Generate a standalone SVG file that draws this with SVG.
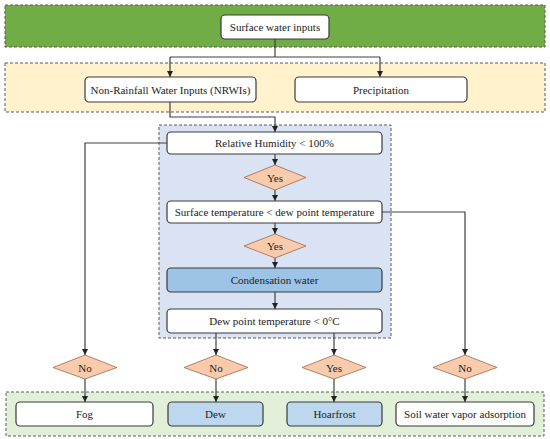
<svg xmlns="http://www.w3.org/2000/svg" width="550" height="439" viewBox="0 0 550 439">
<style>
.band{stroke:#5a5a5a;stroke-width:1;stroke-dasharray:3,2}
.box{fill:#fff;stroke:#3a3a3a;stroke-width:1.2}
.blue{fill:#9dc3e6}
.lblue{fill:#bdd7ee}
.dia{fill:#f8cbad;stroke:#a0674a;stroke-width:0.8}
.t{font-family:"Liberation Serif","Times New Roman",serif;font-size:11px;fill:#222;text-anchor:middle;dominant-baseline:central}
.c{fill:none;stroke:#404040;stroke-width:1.2}
</style>
<defs>
<marker id="ah" viewBox="0 0 10 10" refX="10" refY="5" markerWidth="6" markerHeight="6" markerUnits="userSpaceOnUse" orient="auto">
<path d="M0,0 L10,5 L0,10 z" fill="#222"/>
</marker>
</defs>
<rect class="band" x="5" y="5" width="540" height="42" fill="#70ad47"/>
<rect class="band" x="5" y="63" width="540" height="49" fill="#fff2cc"/>
<rect class="band" x="159" y="125" width="232" height="213" fill="#dae3f3"/>
<rect class="band" x="6" y="392" width="538" height="44" fill="#e2f0d9"/>
<g id="connectors">
<path class="c" d="M275,39 V57 M170,57 H380"/>
<path class="c" d="M170,57 V77" marker-end="url(#ah)"/>
<path class="c" d="M380,57 V77" marker-end="url(#ah)"/>
<path class="c" d="M170,102 V117 H275 V132" marker-end="url(#ah)"/>
<path class="c" d="M167,143 H85 V355" marker-end="url(#ah)"/>
<path class="c" d="M275,154 V165" marker-end="url(#ah)"/>
<path class="c" d="M275,190 V201" marker-end="url(#ah)"/>
<path class="c" d="M382,212 H465 V355" marker-end="url(#ah)"/>
<path class="c" d="M275,223 V234" marker-end="url(#ah)"/>
<path class="c" d="M275,258 V268" marker-end="url(#ah)"/>
<path class="c" d="M275,292 V309" marker-end="url(#ah)"/>
<path class="c" d="M216,333 V355" marker-end="url(#ah)"/>
<path class="c" d="M334,333 V355" marker-end="url(#ah)"/>
<path class="c" d="M85,379 V402" marker-end="url(#ah)"/>
<path class="c" d="M216,379 V402" marker-end="url(#ah)"/>
<path class="c" d="M334,379 V402" marker-end="url(#ah)"/>
<path class="c" d="M465,379 V402" marker-end="url(#ah)"/>
</g>
<g id="surface"><rect class="box" x="221" y="15" width="108" height="24" rx="4"/><text class="t" x="275" y="27">Surface water inputs</text></g>
<g id="nrwi"><rect class="box" x="85" y="77" width="171" height="25" rx="4"/><text class="t" x="170.5" y="89.5">Non-Rainfall Water Inputs (NRWIs)</text></g>
<g id="precip"><rect class="box" x="295" y="77" width="172" height="25" rx="4"/><text class="t" x="381" y="89.5">Precipitation</text></g>
<g id="rh"><rect class="box" x="167" y="132" width="215" height="22" rx="4"/><text class="t" x="274.5" y="143">Relative Humidity &lt; 100%</text></g>
<g id="yes1"><polygon class="dia" points="275,165 306,177.5 275,190 244,177.5"/><text class="t" x="275" y="177.5">Yes</text></g>
<g id="st"><rect class="box" x="167" y="201" width="215" height="22" rx="4"/><text class="t" x="274.5" y="212">Surface temperature &lt; dew point temperature</text></g>
<g id="yes2"><polygon class="dia" points="275,234 306,246 275,258 244,246"/><text class="t" x="275" y="246">Yes</text></g>
<g id="cond"><rect class="box blue" x="167" y="268" width="215" height="24" rx="4"/><text class="t" x="274.5" y="280">Condensation water</text></g>
<g id="dpt"><rect class="box" x="167" y="309" width="215" height="24" rx="4"/><text class="t" x="274.5" y="321">Dew point temperature &lt; 0°C</text></g>
<g id="no1"><polygon class="dia" points="85,355 117,367.5 85,379 53,367.5"/><text class="t" x="85" y="367.5">No</text></g>
<g id="no2"><polygon class="dia" points="216,355 248,367.5 216,379 184,367.5"/><text class="t" x="216" y="367.5">No</text></g>
<g id="yes3"><polygon class="dia" points="334,355 366,367.5 334,379 302,367.5"/><text class="t" x="334" y="367.5">Yes</text></g>
<g id="no3"><polygon class="dia" points="465,355 497,367.5 465,379 433,367.5"/><text class="t" x="465" y="367.5">No</text></g>
<g id="fog"><rect class="box" x="16" y="402" width="137" height="24" rx="4"/><text class="t" x="84.5" y="414">Fog</text></g>
<g id="dew"><rect class="box lblue" x="168" y="402" width="95" height="24" rx="4"/><text class="t" x="215.5" y="414">Dew</text></g>
<g id="hoar"><rect class="box lblue" x="287" y="402" width="95" height="24" rx="4"/><text class="t" x="334.5" y="414">Hoarfrost</text></g>
<g id="soil"><rect class="box" x="396" y="402" width="138" height="24" rx="4"/><text class="t" x="465" y="414">Soil water vapor adsorption</text></g>
</svg>
